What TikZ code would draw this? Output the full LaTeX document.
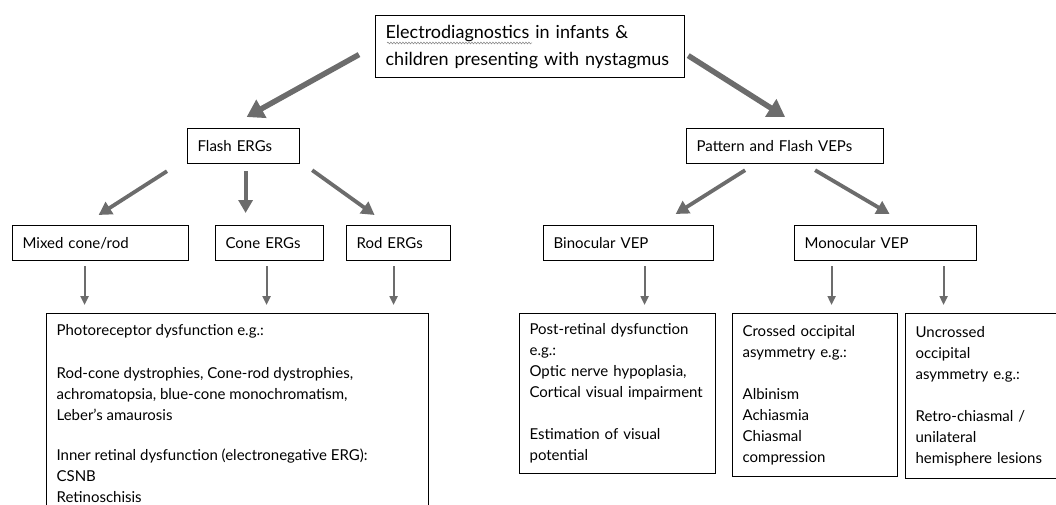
\documentclass[tikz,border=0pt]{standalone}
\usepackage{fontspec}
\setmainfont{Lato}
\usetikzlibrary{arrows.meta, positioning, calc, decorations.pathmorphing}

\definecolor{arrowgray}{RGB}{108,108,108}
\tikzset{
    box/.style={draw, line width=1.2pt, anchor=north west, align=left,
        inner xsep=10pt, inner ysep=0pt, font=\fontsize{15}{21}\selectfont},
    bigarr/.style={-{Triangle[length=17pt,width=20pt]}, line width=5.5pt, draw=arrowgray},
    midarr/.style={-{Triangle[length=13pt,width=14pt]}, line width=3.8pt, draw=arrowgray},
    smallarr/.style={-{Triangle[length=9pt,width=8pt]}, line width=2.2pt, draw=arrowgray}
}

\begin{document}
\begin{tikzpicture}[x=1pt, y=-1pt]
    \useasboundingbox (0,0) rectangle (1056,505);

    \node[box, text width=289pt, minimum height=62pt, font=\fontsize{18}{27}\selectfont] (top) at (375,15)
        {Electrodiagnostics in infants \&\\children presenting with nystagmus};
    \draw[gray, line width=0.5pt, decorate, decoration={snake, segment length=3pt, amplitude=0.9pt}]
        ($(top.north west)+(12,28)$) -- ($(top.north west)+(157,28)$);

    \node[box, text width=92pt, minimum height=35pt] (flash) at (187,128) {Flash ERGs};
    \node[box, text width=177pt, minimum height=35pt] (pattern) at (686,128) {Pattern and Flash VEPs};

    \node[box, text width=156pt, minimum height=35pt] (mixed) at (12,225) {Mixed cone/rod};
    \node[box, text width=88pt, minimum height=35pt] (cone) at (215,225) {Cone ERGs};
    \node[box, text width=84pt, minimum height=35pt] (rod) at (346,225) {Rod ERGs};
    \node[box, text width=150pt, minimum height=35pt] (binoc) at (543,225) {Binocular VEP};
    \node[box, text width=162pt, minimum height=35pt] (monoc) at (794,225) {Monocular VEP};

    \node[box, inner ysep=11pt] (photo) at (46,313)
        {\parbox[t][190pt][t]{362pt}{\raggedright
        Photoreceptor dysfunction e.g.:\\[22pt]
        Rod-cone dystrophies, Cone-rod dystrophies,\\
        achromatopsia, blue-cone monochromatism,\\
        Leber's amaurosis\\[19pt]
        Inner retinal dysfunction (electronegative ERG):\\
        CSNB\\
        Retinoschisis}};
    \node[box, text width=176pt, minimum height=160pt] (post) at (519,313)
        {Post-retinal dysfunction\\e.g.:\\Optic nerve hypoplasia,\\Cortical visual impairment\\[21pt]
        Estimation of visual\\potential};
    \node[box, text width=145pt, minimum height=163pt] (crossed) at (732,313)
        {Crossed occipital\\asymmetry e.g.:\\[21pt]Albinism\\Achiasmia\\Chiasmal\\compression};
    \node[box, text width=140pt, minimum height=165pt] (uncrossed) at (905,313)
        {Uncrossed\\occipital\\asymmetry e.g.:\\[21pt]Retro-chiasmal /\\unilateral\\hemisphere lesions};

    % top level
    \draw[bigarr] ($(top.west)+(-16,8)$) -- ($(flash.north)+(3,-11)$);
    \draw[bigarr] ($(top.east)+(3,9)$) -- ($(pattern.north)+(0,-11)$);

    % flash ERGs
    \draw[midarr] ($(flash.south west)+(-20,7)$) -- ($(mixed.north)+(-2,-10)$);
    \draw[midarr] ($(flash.south)+(2,7)$) -- ($(cone.north)+(-24,-12)$);
    \draw[midarr] ($(flash.south east)+(12,6)$) -- ($(rod.north)+(-24,-10)$);

    % VEPs
    \draw[midarr] ($(pattern.south)+(-40,6)$) -- ($(binoc.north)+(47,-11)$);
    \draw[midarr] ($(pattern.south)+(30,6)$) -- ($(monoc.north)+(4,-11)$);

    % to the findings
    \draw[smallarr] ($(mixed.south)+(-16,5)$) -- ($(mixed.south |- photo.north)+(-16,-8)$);
    \draw[smallarr] ($(cone.south)+(-3,5)$) -- ($(cone.south |- photo.north)+(-3,-8)$);
    \draw[smallarr] ($(rod.south)+(-5,5)$) -- ($(rod.south |- photo.north)+(-5,-8)$);
    \draw[smallarr] ($(binoc.south)+(16,5)$) -- ($(binoc.south |- post.north)+(16,-8)$);
    \draw[smallarr] ($(monoc.south)+(-54,5)$) -- ($(monoc.south |- crossed.north)+(-54,-8)$);
    \draw[smallarr] ($(monoc.south)+(58,5)$) -- ($(monoc.south |- uncrossed.north)+(58,-8)$);
\end{tikzpicture}
\end{document}
